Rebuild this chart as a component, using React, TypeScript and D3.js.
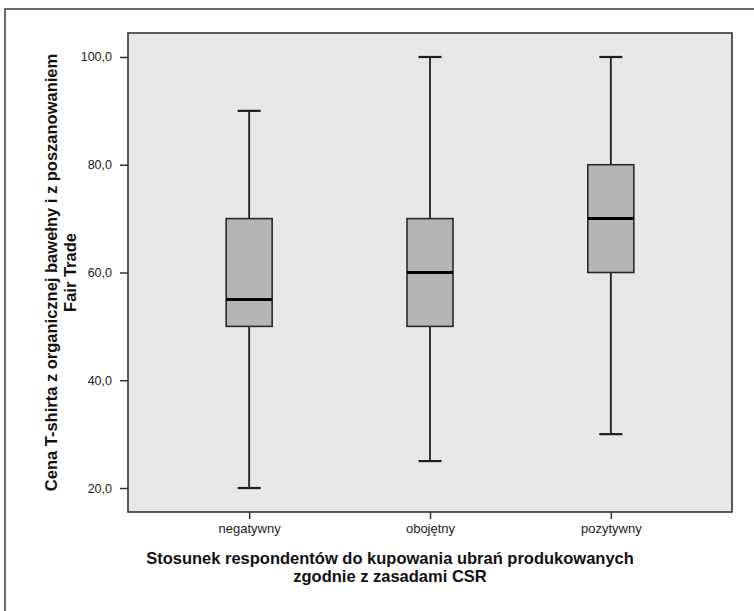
import React, { useEffect, useRef } from "react";
import * as d3 from "d3";

// box plot data (SPSS style)
const categories = ["negatywny", "obojętny", "pozytywny"];
const whiskerLow = [20, 25, 30];
const q1 = [50, 50, 60];
const medians = [55, 60, 70];
const q3 = [70, 70, 80];
const whiskerHigh = [90, 100, 100];
const yTicks = [20, 40, 60, 80, 100];

const yTitle = ["Cena T-shirta z organicznej bawełny i z poszanowaniem", "Fair Trade"];
const xTitle = ["Stosunek respondentów do kupowania ubrań produkowanych", "zgodnie z zasadami CSR"];

export default function App() {
  const ref = useRef<SVGSVGElement | null>(null);

  useEffect(() => {
    const width = 754;
    const height = 611;
    const svg = d3.select(ref.current);
    svg.selectAll("*").remove();
    svg.attr("width", width).attr("height", height);

    const font = "'Liberation Sans', Arial, sans-serif";
    const plot = { left: 128, right: 732, top: 33, bottom: 512 };

    // outer frame (runs off the right and bottom edge)
    svg.append("rect").attr("x", 5).attr("y", 9).attr("width", 780).attr("height", 640)
      .attr("fill", "#fff").attr("stroke", "#3a3a3a").attr("stroke-width", 1.5);

    const x = d3.scalePoint<string>().domain(categories).range([plot.left, plot.right]).padding(0.67);
    const y = d3.scaleLinear().domain([15.55, 104.45]).range([plot.bottom, plot.top]);

    svg.append("rect")
      .attr("x", plot.left).attr("y", plot.top)
      .attr("width", plot.right - plot.left).attr("height", plot.bottom - plot.top)
      .attr("fill", "#e8e8e8").attr("stroke", "#333").attr("stroke-width", 1.6);

    const fmt = (v: number) => d3.format(".1f")(v).replace(".", ",");

    // y axis
    const yAxis = svg.append("g").attr("transform", `translate(${plot.left},0)`)
      .call(d3.axisLeft(y).tickValues(yTicks).tickSize(8).tickPadding(8).tickFormat((d) => fmt(+d)));
    yAxis.select(".domain").remove();
    yAxis.selectAll(".tick line").attr("stroke", "#333").attr("stroke-width", 1.5);
    yAxis.selectAll(".tick text").attr("font-family", font).attr("font-size", 12.5).attr("fill", "#222");

    // x axis
    const xAxis = svg.append("g").attr("transform", `translate(0,${plot.bottom})`)
      .call(d3.axisBottom(x).tickSize(7).tickPadding(5));
    xAxis.select(".domain").remove();
    xAxis.selectAll(".tick line").attr("stroke", "#333").attr("stroke-width", 1.5);
    xAxis.selectAll(".tick text").attr("font-family", font).attr("font-size", 13).attr("fill", "#222");

    // boxes
    const boxW = 46;
    const capW = 23;
    const rows = categories.map((c, i) => ({
      c, lo: whiskerLow[i], q1: q1[i], med: medians[i], q3: q3[i], hi: whiskerHigh[i],
    }));
    const g = svg.append("g");
    const b = g.selectAll("g.box").data(rows).join("g").attr("class", "box");
    b.append("line")
      .attr("x1", (d) => x(d.c)!).attr("x2", (d) => x(d.c)!)
      .attr("y1", (d) => y(d.lo)).attr("y2", (d) => y(d.hi))
      .attr("stroke", "#1e1e1e").attr("stroke-width", 1.8);
    b.append("line")
      .attr("x1", (d) => x(d.c)! - capW / 2).attr("x2", (d) => x(d.c)! + capW / 2)
      .attr("y1", (d) => y(d.lo)).attr("y2", (d) => y(d.lo))
      .attr("stroke", "#1e1e1e").attr("stroke-width", 2.2);
    b.append("line")
      .attr("x1", (d) => x(d.c)! - capW / 2).attr("x2", (d) => x(d.c)! + capW / 2)
      .attr("y1", (d) => y(d.hi)).attr("y2", (d) => y(d.hi))
      .attr("stroke", "#1e1e1e").attr("stroke-width", 2.2);
    b.append("rect")
      .attr("x", (d) => x(d.c)! - boxW / 2).attr("width", boxW)
      .attr("y", (d) => y(d.q3)).attr("height", (d) => y(d.q1) - y(d.q3))
      .attr("fill", "#b5b5b5").attr("stroke", "#2a2a2a").attr("stroke-width", 1.6);
    b.append("line")
      .attr("x1", (d) => x(d.c)! - boxW / 2).attr("x2", (d) => x(d.c)! + boxW / 2)
      .attr("y1", (d) => y(d.med)).attr("y2", (d) => y(d.med))
      .attr("stroke", "#000").attr("stroke-width", 3);

    // axis titles
    const yc = (plot.top + plot.bottom) / 2;
    svg.append("text").attr("transform", `translate(57,${yc}) rotate(-90)`)
      .attr("text-anchor", "middle").attr("font-family", font).attr("font-weight", "bold")
      .attr("font-size", 16.5).attr("fill", "#111")
      .selectAll("tspan").data(yTitle).join("tspan")
      .attr("x", 0).attr("dy", (_d, i) => (i === 0 ? 0 : 19)).text((d) => d);

    svg.append("text").attr("x", 390).attr("y", 564)
      .attr("text-anchor", "middle").attr("font-family", font).attr("font-weight", "bold")
      .attr("font-size", 16.5).attr("fill", "#111")
      .selectAll("tspan").data(xTitle).join("tspan")
      .attr("x", 390).attr("dy", (_d, i) => (i === 0 ? 0 : 18)).text((d) => d);
  }, []);

  return <svg ref={ref} style={{ position: "absolute", left: 0, top: 0 }} />;
}
